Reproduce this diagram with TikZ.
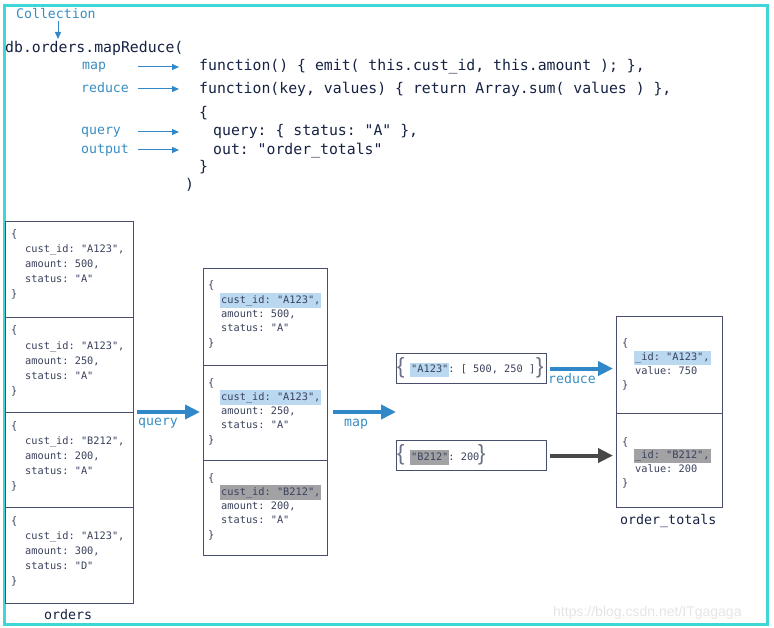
\documentclass[tikz,border=0pt]{standalone}
\usepackage{fontspec}
\setmonofont{DejaVu Sans Mono}
\newfontfamily\wmfont{Liberation Sans}
\usetikzlibrary{arrows.meta}
\definecolor{framecol}{RGB}{62,214,214}
\definecolor{codecol}{RGB}{22,34,68}
\definecolor{doccol}{RGB}{58,66,92}
\definecolor{boxcol}{RGB}{72,78,108}
\definecolor{lblue}{RGB}{58,142,196}
\definecolor{ablue}{RGB}{48,136,200}
\definecolor{agray}{RGB}{72,72,72}
\definecolor{hlblue}{RGB}{186,216,240}
\definecolor{hlgray}{RGB}{162,162,164}
\newcommand\hlbox[2]{\begingroup\setlength{\fboxsep}{1pt}\hspace*{-1pt}\colorbox{#1}{\rule[-3.5pt]{0pt}{12.5pt}#2}\hspace*{-1pt}\endgroup}
\newcommand\docfive[8]{%
  \node[doc] (#1a) at (#2,#4) {\{};
  \node[doc] (#1b) at (#3,#4+#5) {#6};
  \node[doc] (#1c) at (#3,#4+2*#5) {#7};
  \node[doc] (#1d) at (#3,#4+3*#5) {#8};
  \node[doc] (#1e) at (#2,#4+4*#5) {\}};}
\newcommand\docfour[7]{%
  \node[doc] (#1a) at (#2,#4) {\{};
  \node[doc] (#1b) at (#3,#4+#5) {#6};
  \node[doc] (#1c) at (#3,#4+2*#5) {#7};
  \node[doc] (#1e) at (#2,#4+3*#5) {\}};}
\begin{document}
\begin{tikzpicture}[x=1pt,y=-1pt,
  code/.style={font=\fontsize{14.8}{15}\selectfont\ttfamily, text=codecol, anchor=base west, inner sep=0},
  lbl/.style={font=\fontsize{13.2}{13}\selectfont\ttfamily, text=lblue, anchor=base west, inner sep=0},
  title/.style={font=\fontsize{13.3}{13}\selectfont\ttfamily, text=codecol, anchor=base west, inner sep=0},
  doc/.style={font=\fontsize{10.3}{12}\selectfont\ttfamily, text=doccol, anchor=base west, inner sep=0},
  bigbrace/.style={font=\fontsize{22}{22}\selectfont\wmfont, text=doccol!75, anchor=base west, inner sep=0},
  cellbox/.style={draw=boxcol, line width=1.1pt, inner sep=0, anchor=north west, minimum width=#1},
  thinarrow/.style={draw=ablue, line width=1pt, -{Triangle[length=7pt,width=6pt]}},
  bigarrow/.style={draw=#1, line width=4pt, -{Triangle[length=15pt,width=14pt]}},
]
\useasboundingbox (0,0) rectangle (774,628);
\fill[white] (0,0) rectangle (774,628);

% watermark
\node[font=\fontsize{14}{14}\selectfont\wmfont, text=black!10, anchor=base west, inner sep=0] (wm) at (553,616) {https://blog.csdn.net/ITgagaga};

% frame
\draw[framecol, line width=3pt] (4,6) rectangle (767,624);

% top code
\node[lbl] (coll) at (16,19) {Collection};
\coordinate (collA) at (58,21);
\coordinate (collB) at (58,39);
\draw[thinarrow] (collA) -- (collB);
\node[code] (c1) at (5,53) {db.orders.mapReduce(};
\node[code] (c2) at (199,71) {function() \{ emit( this.cust\_id, this.amount ); \},};
\node[code] (c3) at (199,94) {function(key, values) \{ return Array.sum( values ) \},};
\node[code] (c4) at (199,118) {\{};
\node[code] (c5) at (213,136) {query: \{ status: "A" \},};
\node[code] (c6) at (213,155) {out: "order\_totals"};
\node[code] (c7) at (199,172) {\}};
\node[code] (c8) at (185,190) {)};

\node[lbl] (lmap) at (82,70) {map};
\node[lbl] (lred) at (81,93) {reduce};
\node[lbl] (lqry) at (81,135) {query};
\node[lbl] (lout) at (81,154) {output};
\foreach \n/\yy in {map/67, red/89, qry/132, out/150}{
  \coordinate (\n A) at (138,\yy);
  \coordinate (\n B) at (179,\yy);
  \draw[thinarrow] (\n A) -- (\n B);
}

% orders collection
\node[cellbox=128, minimum height=96] (o1) at (5,221) {};
\node[cellbox=128, minimum height=95] (o2) at (5,317) {};
\node[cellbox=128, minimum height=95] (o3) at (5,412) {};
\node[cellbox=128, minimum height=96] (o4) at (5,507) {};
\docfive{o1t}{11}{25}{238}{15}{cust\_id: "A123",}{amount: 500,}{status: "A"}
\docfive{o2t}{11}{25}{334}{15}{cust\_id: "A123",}{amount: 250,}{status: "A"}
\docfive{o3t}{11}{25}{429}{15}{cust\_id: "B212",}{amount: 200,}{status: "A"}
\docfive{o4t}{11}{25}{524}{15}{cust\_id: "A123",}{amount: 300,}{status: "D"}
\node[title] (ordlbl) at (44,619) {orders};

% query result
\node[cellbox=124, minimum height=97] (m1) at (203,268) {};
\node[cellbox=124, minimum height=95] (m2) at (203,365) {};
\node[cellbox=124, minimum height=95] (m3) at (203,460) {};
\docfive{m1t}{208}{221}{289}{14.3}{\hlbox{hlblue}{cust\_id: "A123",}}{amount: 500,}{status: "A"}
\docfive{m2t}{208}{221}{386}{14.3}{\hlbox{hlblue}{cust\_id: "A123",}}{amount: 250,}{status: "A"}
\docfive{m3t}{208}{221}{481}{14.3}{\hlbox{hlgray}{cust\_id: "B212",}}{amount: 200,}{status: "A"}

% map results
\node[cellbox=150, minimum height=30] (k1) at (396,353) {};
\node[cellbox=150, minimum height=30] (k2) at (396,440) {};
\node[bigbrace] (k1l) at (397,373.5) {\{};
\node[doc] (k1t) at (411,373) {\hlbox{hlblue}{"A123"}: [ 500, 250 ]};
\node[bigbrace] (k1r) at (536,373.5) {\}};
\node[bigbrace] (k2l) at (397,460.5) {\{};
\node[doc] (k2t) at (411,460) {\hlbox{hlgray}{"B212"}: 200};
\node[bigbrace] (k2r) at (478,460.5) {\}};

% order_totals
\node[cellbox=106, minimum height=97] (t1) at (616,316) {};
\node[cellbox=106, minimum height=94] (t2) at (616,413) {};
\docfour{t1t}{622}{635}{347}{13.7}{\hlbox{hlblue}{\_id: "A123",}}{value: 750}
\docfour{t2t}{622}{635}{445}{13.7}{\hlbox{hlgray}{\_id: "B212",}}{value: 200}
\node[title] (otlbl) at (620,524) {order\_totals};

% big arrows
\draw[bigarrow=ablue] ([xshift=3pt]o3.north east) -- ([xshift=-3pt]o3.north east -| m2.west);
\node[lbl] (qlbl) at (138,425) {query};
\coordinate (mapend) at (396,412);
\draw[bigarrow=ablue] ([xshift=5pt]m2.east |- mapend) -- (mapend);
\node[lbl] (mlbl) at (344,426) {map};
\draw[bigarrow=ablue] ([xshift=3pt]k1.east) -- ([xshift=-3pt]k1.east -| t1.west);
\node[lbl] (rlbl) at (548,383) {reduce};
\draw[bigarrow=agray] ([xshift=3pt]k2.east) -- ([xshift=-3pt]k2.east -| t2.west);
\end{tikzpicture}
\end{document}
